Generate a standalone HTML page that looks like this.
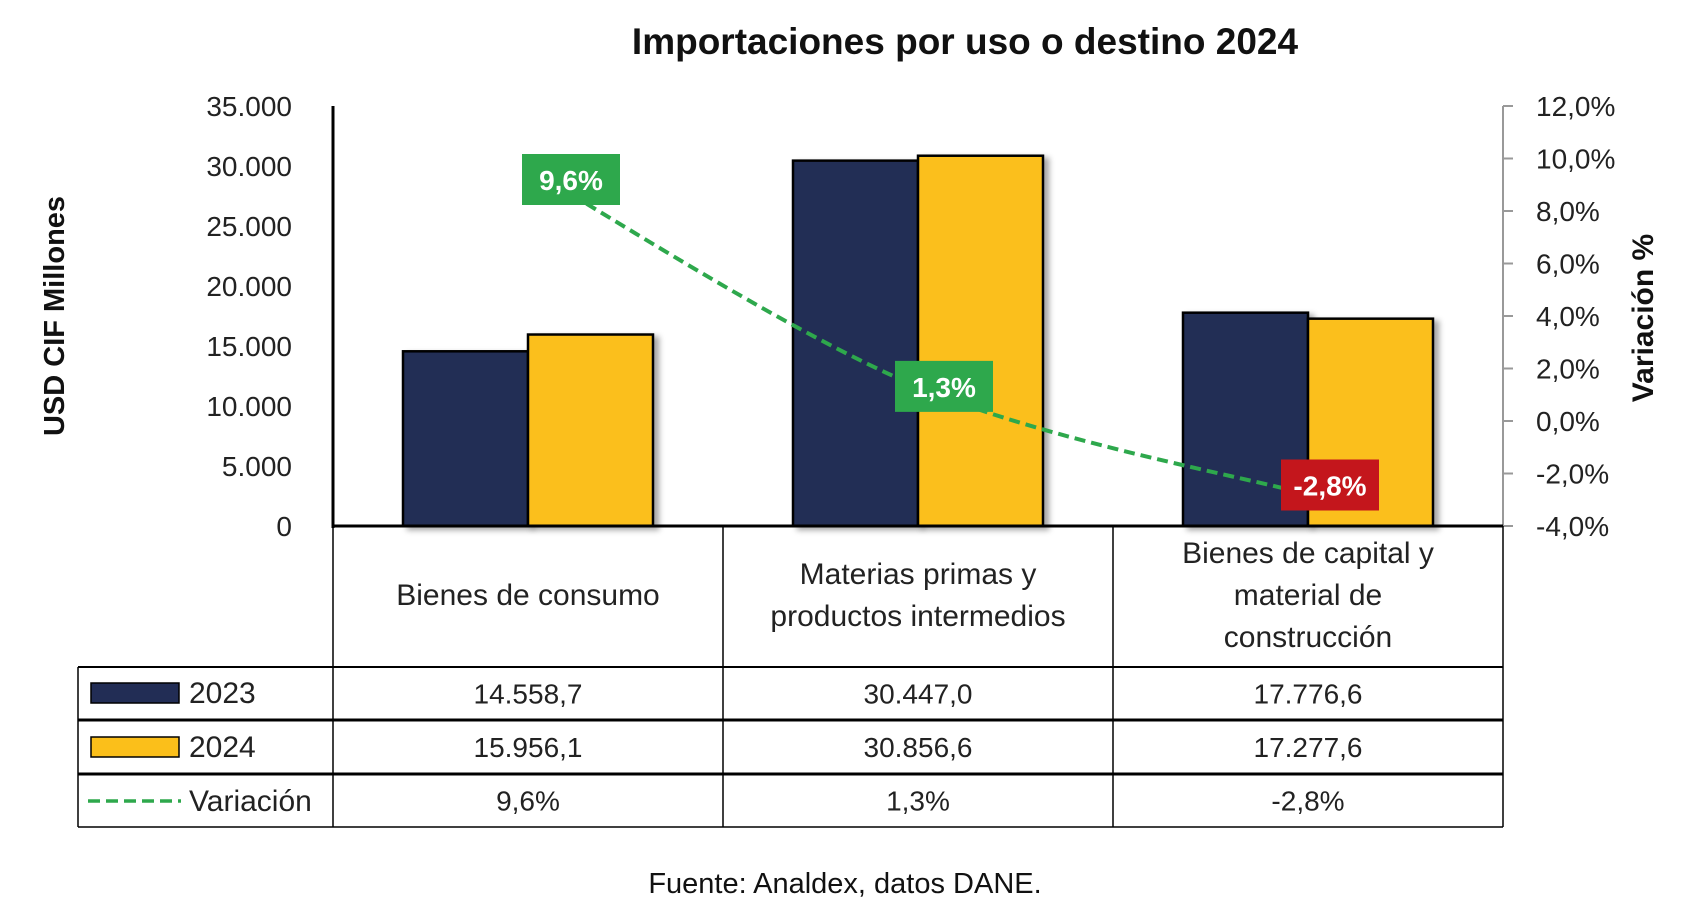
<!DOCTYPE html>
<html><head><meta charset="utf-8">
<style>
html,body{margin:0;padding:0;background:#fff;}
body{width:1684px;height:911px;overflow:hidden;}
svg text{font-family:"Liberation Sans",sans-serif;}
</style></head>
<body>
<svg id="chart" width="1684" height="911" viewBox="0 0 1684 911" xmlns="http://www.w3.org/2000/svg">
<defs>
<filter id="sh" x="-10%" y="-10%" width="130%" height="120%"><feDropShadow dx="5" dy="3" stdDeviation="3" flood-color="#000" flood-opacity="0.35"/></filter>
</defs>
<text x="965" y="54" text-anchor="middle" font-size="37" font-weight="bold" fill="#111">Importaciones por uso o destino 2024</text>
<text transform="translate(64,316) rotate(-90)" text-anchor="middle" font-size="29" font-weight="bold" fill="#111">USD CIF Millones</text>
<text transform="translate(1653,318) rotate(-90)" text-anchor="middle" font-size="30" font-weight="bold" fill="#111">Variación %</text>
<g id="plot"></g>
<g id="table"></g>
<text x="845" y="893" text-anchor="middle" font-size="29" fill="#111">Fuente: Analdex, datos DANE.</text>
</svg>
<script>
const categories = [["Bienes de consumo"], ["Materias primas y","productos intermedios"], ["Bienes de capital y","material de","construcción"]];
const values2023 = [14558.7, 30447.0, 17776.6];
const values2024 = [15956.1, 30856.6, 17277.6];
const variation = [9.6, 1.3, -2.8];
const leftTicks = [0, 5000, 10000, 15000, 20000, 25000, 30000, 35000];
const rightTicks = [-4, -2, 0, 2, 4, 6, 8, 10, 12];

const NS = "http://www.w3.org/2000/svg";
const X0 = 333, X1 = 1503, Y0 = 526, Ytop = 106;
const catW = (X1 - X0) / categories.length;
const yL = v => Y0 - (v - 0) / 35000 * (Y0 - Ytop);
const yR = v => Y0 - (v + 4) / 16 * (Y0 - Ytop);
const cx = i => X0 + catW * (i + 0.5);
const fmtThousands = v => v.toFixed(0).replace(/\B(?=(\d{3})+(?!\d))/g, ".");
const fmtNum = v => { const p = v.toFixed(1).split("."); return p[0].replace(/\B(?=(\d{3})+(?!\d))/g, ".") + "," + p[1]; };
const fmtPct = v => v.toFixed(1).replace(".", ",") + "%";

function mk(tag, attrs, parent, txt) {
  const e = document.createElementNS(NS, tag);
  for (const k in attrs) e.setAttribute(k, attrs[k]);
  if (txt !== undefined) e.textContent = txt;
  parent.appendChild(e);
  return e;
}
const plot = document.getElementById("plot");
const table = document.getElementById("table");

leftTicks.forEach(t => {
  const el = mk("text", {x: 292, y: yL(t) + 10, "text-anchor": "end", "font-size": 28, fill: "#222"}, plot, fmtThousands(t));
  
  
});
rightTicks.forEach(t => {
  const tk = mk("line", {x1: X1, x2: X1 + 10, y1: yR(t), y2: yR(t), stroke: "#999", "stroke-width": 2}, plot);
  
  
  const el = mk("text", {x: 1536, y: yR(t) + 10, "font-size": 28, fill: "#222"}, plot, fmtPct(t));
  
  
});
const ra = mk("line", {x1: X1, x2: X1, y1: Ytop, y2: Y0, stroke: "#999", "stroke-width": 2}, plot);



const bw = 125;
categories.forEach((c, i) => {
  [[values2023[i], "#222d55", -bw], [values2024[i], "#fbbf1a", 0]].forEach(([v, col, off], k) => {
    const r = mk("rect", {x: cx(i) + off, y: yL(v), width: bw, height: Y0 - yL(v), fill: col, stroke: "#000", "stroke-width": 2.5, filter: "url(#sh)"}, plot);
    
    
  });
});
const la = mk("line", {x1: X0, x2: X0, y1: Ytop, y2: Y0 + 2, stroke: "#000", "stroke-width": 3}, plot);


const xa = mk("line", {x1: X0, x2: X1, y1: Y0, y2: Y0, stroke: "#000", "stroke-width": 3}, plot);



const pts = variation.map((v, i) => [cx(i), yR(v)]);
let d = "M" + pts[0][0] + "," + pts[0][1];
for (let i = 0; i < pts.length - 1; i++) {
  const p0 = pts[Math.max(0, i - 1)], p1 = pts[i], p2 = pts[i + 1], p3 = pts[Math.min(pts.length - 1, i + 2)];
  const c1 = [p1[0] + (p2[0] - p0[0]) / 6, p1[1] + (p2[1] - p0[1]) / 6];
  const c2 = [p2[0] - (p3[0] - p1[0]) / 6, p2[1] - (p3[1] - p1[1]) / 6];
  d += " C" + c1 + " " + c2 + " " + p2;
}
const line = mk("path", {d: d, fill: "none", stroke: "#2ea84c", "stroke-width": 4, "stroke-dasharray": "11 6"}, plot);



const labelOffsets = [[43, 11], [26, 0], [22, -9]];
variation.forEach((v, i) => {
  const lx = pts[i][0] + labelOffsets[i][0], ly = pts[i][1] + labelOffsets[i][1];
  const g = mk("g", {}, plot);
  
  
  mk("rect", {x: lx - 49, y: ly - 26, width: 98, height: 51, fill: v < 0 ? "#c4161c" : "#2ea84c"}, g);
  mk("text", {x: lx, y: ly + 10, "text-anchor": "middle", "font-size": 28, "font-weight": "bold", fill: "#fff"}, g, fmtPct(v));
});

const TL = 78, rows = [527, 667, 720, 774, 827];
const colX = [X0, X0 + catW, X0 + 2 * catW, X1];
function ln(x1, y1, x2, y2, w, nm) {
  const l = mk("line", {x1, y1, x2, y2, stroke: "#000", "stroke-width": w}, table);
  
  
}
colX.forEach(x => ln(x, Y0, x, rows[4], 1.5, 'table-col-line'));
ln(TL, rows[1], TL, rows[4], 1.5, 'table-left-border');
ln(TL, rows[1], X1, rows[1], 2, 'table-row-line');
ln(TL, rows[2], X1, rows[2], 3, 'table-row-line');
ln(TL, rows[3], X1, rows[3], 3, 'table-row-line');
ln(TL, rows[4], X1, rows[4], 1.5, 'table-row-line');

categories.forEach((c, i) => {
  const mid = (rows[0] + rows[1]) / 2 - 2, lh = 42;
  c.forEach((t, j) => {
    const el = mk("text", {x: cx(i), y: mid + (j - (c.length - 1) / 2) * lh + 10, "text-anchor": "middle", "font-size": 30, fill: "#222"}, table, t);
    
    
  });
  [[values2023[i], 1], [values2024[i], 2]].forEach(([v, r]) => {
    const el = mk("text", {x: cx(i), y: (rows[r] + rows[r + 1]) / 2 + 10, "text-anchor": "middle", "font-size": 28, fill: "#222"}, table, fmtNum(v));
    
    
  });
  const el = mk("text", {x: cx(i), y: (rows[3] + rows[4]) / 2 + 10, "text-anchor": "middle", "font-size": 28, fill: "#222"}, table, fmtPct(variation[i]));
  
  
});
const s1 = mk("rect", {x: 91, y: 683, width: 88, height: 20, fill: "#222d55", stroke: "#000", "stroke-width": 1.5}, table);


const s2 = mk("rect", {x: 91, y: 737, width: 88, height: 20, fill: "#fbbf1a", stroke: "#000", "stroke-width": 1.5}, table);


const s3 = mk("line", {x1: 88, x2: 181, y1: 801, y2: 801, stroke: "#2ea84c", "stroke-width": 3.5, "stroke-dasharray": "12 6"}, table);


[["2023", 703], ["2024", 757], ["Variación", 811]].forEach(([t, y]) => {
  const el = mk("text", {x: 189, y: y, "font-size": 30, fill: "#222"}, table, t);
  
  
});
</script>
</body></html>
